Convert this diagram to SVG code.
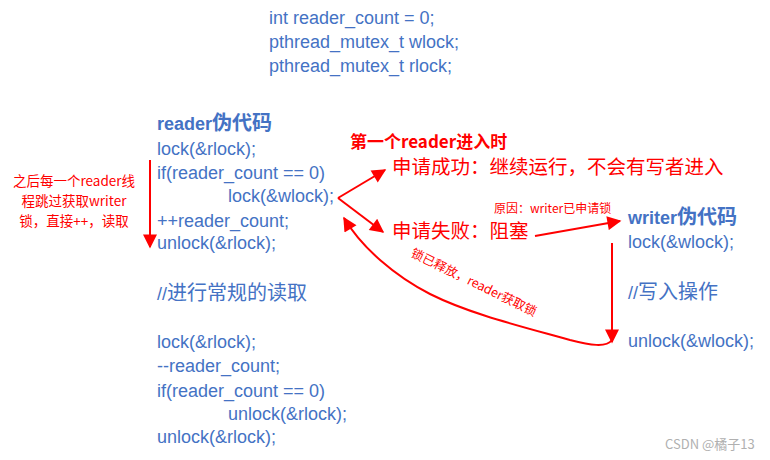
<svg xmlns="http://www.w3.org/2000/svg" width="770" height="460" viewBox="0 0 770 460">
<defs>
<marker id="ah" viewBox="0 0 10 10" refX="9" refY="5" markerWidth="8" markerHeight="7" markerUnits="strokeWidth" orient="auto">
<path d="M0,0 L10,5 L0,10 z" fill="#FF0000"/>
</marker>
<style>
.code{font-family:"Liberation Sans","Noto Sans CJK SC",sans-serif;font-size:18px;fill:#4472C4}
.hd{font-family:"Liberation Sans","Noto Sans CJK SC",sans-serif;font-size:18px;font-weight:bold;fill:#4472C4}
.cj{font-size:20px}
.red{font-family:"Noto Sans CJK SC",sans-serif;fill:#FF0000}
.ln{fill:none;stroke:#FF0000;stroke-width:2;marker-end:url(#ah)}
</style>
</defs>
<rect width="770" height="460" fill="#FFFFFF"/>
<g id="globals">
<text class="code" x="269" y="24">int reader_count = 0;</text>
<text class="code" x="269" y="48">pthread_mutex_t wlock;</text>
<text class="code" x="269" y="72">pthread_mutex_t rlock;</text>
</g>
<g id="reader">
<text class="hd" x="157" y="130">reader<tspan class="cj">伪代码</tspan></text>
<text class="code" x="157" y="155">lock(&amp;rlock);</text>
<text class="code" x="157" y="179">if(reader_count == 0)</text>
<text class="code" x="228" y="202">lock(&amp;wlock);</text>
<text class="code" x="157" y="227">++reader_count;</text>
<text class="code" x="157" y="249">unlock(&amp;rlock);</text>
<text class="code" x="157" y="300">//<tspan class="cj">进行常规的读取</tspan></text>
<text class="code" x="157" y="348">lock(&amp;rlock);</text>
<text class="code" x="157" y="372">--reader_count;</text>
<text class="code" x="157" y="397">if(reader_count == 0)</text>
<text class="code" x="228" y="420">unlock(&amp;rlock);</text>
<text class="code" x="157" y="443">unlock(&amp;rlock);</text>
</g>
<g id="writer">
<text class="hd" x="628" y="224">writer<tspan class="cj">伪代码</tspan></text>
<text class="code" x="628" y="248">lock(&amp;wlock);</text>
<text class="code" x="628" y="299">//<tspan class="cj">写入操作</tspan></text>
<text class="code" x="628" y="347">unlock(&amp;wlock);</text>
</g>
<g id="notes">
<text class="red" x="74" y="186" font-size="13.5" text-anchor="middle">之后每一个reader线</text>
<text class="red" x="74" y="206" font-size="13.5" text-anchor="middle">程跳过获取writer</text>
<text class="red" x="74" y="226" font-size="13.5" text-anchor="middle">锁，直接++，读取</text>
<text class="red" x="350" y="148" font-size="17" font-weight="bold">第一个reader进入时</text>
<text class="red" x="392" y="174" font-size="19.5">申请成功：继续运行，不会有写者进入</text>
<text class="red" x="392" y="238" font-size="19.5">申请失败：阻塞</text>
<text class="red" x="494" y="213" font-size="12">原因：writer已申请锁</text>
<text class="red" x="410" y="256" font-size="12.5" transform="rotate(26 410 256)">锁已释放，reader获取锁</text>
</g>
<g id="connectors">
<path class="ln" d="M150,160 L150,247"/>
<path class="ln" d="M338,198 L385,170"/>
<path class="ln" d="M338,198 L383,232"/>
<path class="ln" d="M535,236 L620,221"/>
<path class="ln" d="M612,243 L612,342"/>
<path class="ln" d="M612,340 C606,348 590,345 570,340 C520,326 470,314 430,294 C395,276 362,248 344,218"/>
</g>
<text x="665" y="449" font-family="Noto Sans CJK SC,sans-serif" font-size="13" fill="#B0B0B0">CSDN @橘子13</text>
</svg>
